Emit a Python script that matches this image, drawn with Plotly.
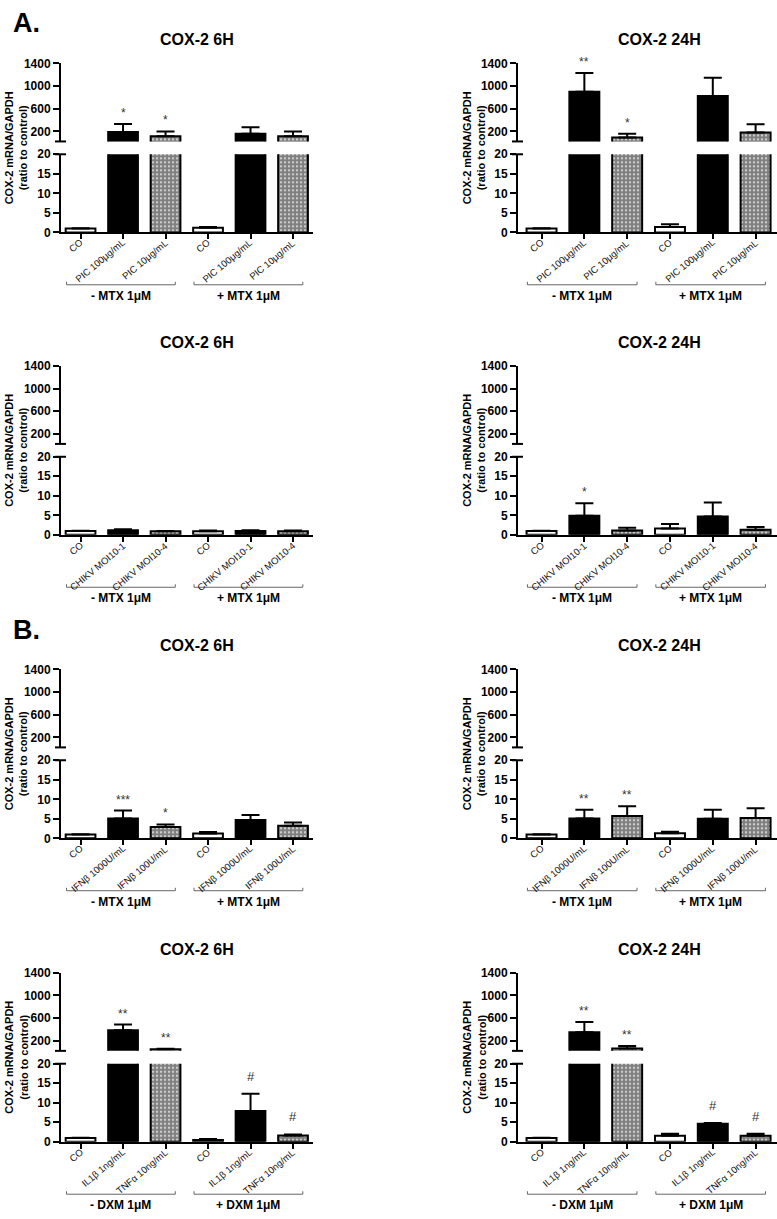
import plotly.graph_objects as go

W, H = 777, 1219

# ---------------- data ----------------
treat_pic = ["CO", "PIC 100μg/mL", "PIC 10μg/mL"]
treat_chikv = ["CO", "CHIKV MOI10-1", "CHIKV MOI10-4"]
treat_ifn = ["CO", "IFNβ 1000U/mL", "IFNβ 100U/mL"]
treat_cyt = ["CO", "IL1β 1ng/mL", "TNFα 10ng/mL"]

groups_mtx = ["- MTX 1μM", "+ MTX 1μM"]
groups_dxm = ["- DXM 1μM", "+ DXM 1μM"]

titles = ["COX-2 6H", "COX-2 24H", "COX-2 6H", "COX-2 24H",
          "COX-2 6H", "COX-2 24H", "COX-2 6H", "COX-2 24H"]

mean_a_pic_6h = [1.0, 190, 115, 1.2, 160, 115]
err_a_pic_6h = [0.05, 140, 85, 0.2, 115, 85]
sig_a_pic_6h = ["", "*", "*", "", "", ""]

mean_a_pic_24h = [1.0, 900, 96, 1.4, 826, 183]
err_a_pic_24h = [0.05, 330, 65, 0.7, 320, 145]
sig_a_pic_24h = ["", "**", "*", "", "", ""]

mean_a_chikv_6h = [1.0, 1.2, 0.95, 0.95, 1.0, 0.95]
err_a_chikv_6h = [0.05, 0.25, 0.05, 0.15, 0.2, 0.15]
sig_a_chikv_6h = ["", "", "", "", "", ""]

mean_a_chikv_24h = [1.0, 4.9, 1.1, 1.6, 4.7, 1.3]
err_a_chikv_24h = [0.05, 3.2, 0.7, 1.2, 3.6, 0.7]
sig_a_chikv_24h = ["", "*", "", "", "", ""]

mean_b_ifn_6h = [1.0, 5.1, 2.9, 1.25, 4.7, 3.2]
err_b_ifn_6h = [0.05, 2.0, 0.65, 0.4, 1.25, 0.85]
sig_b_ifn_6h = ["", "***", "*", "", "", ""]

mean_b_ifn_24h = [1.0, 5.1, 5.7, 1.3, 5.0, 5.2]
err_b_ifn_24h = [0.05, 2.25, 2.5, 0.4, 2.3, 2.5]
sig_b_ifn_24h = ["", "**", "**", "", "", ""]

mean_b_cyt_6h = [1.0, 388, 55, 0.45, 7.9, 1.6]
err_b_cyt_6h = [0.05, 100, 6, 0.25, 4.4, 0.3]
sig_b_cyt_6h = ["", "**", "**", "", "#", "#"]

mean_b_cyt_24h = [1.0, 353, 65, 1.55, 4.6, 1.55]
err_b_cyt_24h = [0.05, 182, 47, 0.5, 0.2, 0.5]
sig_b_cyt_24h = ["", "**", "**", "", "#", "#"]

upper_ticks = [200, 600, 1000, 1400]
lower_ticks = [0, 5, 10, 15, 20]
upper_min, upper_max = 25, 1400
lower_min, lower_max = 0, 20

panels = [
    (treat_pic, groups_mtx, mean_a_pic_6h, err_a_pic_6h, sig_a_pic_6h),
    (treat_pic, groups_mtx, mean_a_pic_24h, err_a_pic_24h, sig_a_pic_24h),
    (treat_chikv, groups_mtx, mean_a_chikv_6h, err_a_chikv_6h, sig_a_chikv_6h),
    (treat_chikv, groups_mtx, mean_a_chikv_24h, err_a_chikv_24h, sig_a_chikv_24h),
    (treat_ifn, groups_mtx, mean_b_ifn_6h, err_b_ifn_6h, sig_b_ifn_6h),
    (treat_ifn, groups_mtx, mean_b_ifn_24h, err_b_ifn_24h, sig_b_ifn_24h),
    (treat_cyt, groups_dxm, mean_b_cyt_6h, err_b_cyt_6h, sig_b_cyt_6h),
    (treat_cyt, groups_dxm, mean_b_cyt_24h, err_b_cyt_24h, sig_b_cyt_24h),
]

# ---------------- layout geometry (pixels) ----------------
FONT = "Liberation Sans, Arial, sans-serif"
ROW_TOP = [57, 363, 670, 977]
COLS = [dict(x0=61, x1=313, r0=-0.46, r1=5.47, title_x=197, ytitle_x=16),
        dict(x0=518, x1=777, r0=-0.55, r1=5.5, title_x=659, ytitle_x=474)]
UP_H, GAP, LOW_H = 79, 13, 79


def py(p):
    return 1 - p / H


def px(p):
    return p / W


fig = go.Figure()
layout = dict(width=W, height=H, margin=dict(l=0, r=0, t=0, b=0),
              plot_bgcolor="white", paper_bgcolor="white", showlegend=False,
              font=dict(family=FONT, color="black"))
annotations = []
shapes = []

bar_styles = [
    dict(color="white", pattern=dict(shape="")),
    dict(color="black", pattern=dict(shape="")),
    dict(color="white", pattern=dict(shape=".", fgcolor="black", bgcolor="white",
                                     size=4, solidity=0.8)),
]

for p, (treats, grps, mean, err, sig) in enumerate(panels):
    row, col = divmod(p, 2)
    c = COLS[col]
    T = ROW_TOP[row]
    nu, nl = 2 * p + 1, 2 * p + 2
    xdom = [px(c["x0"]), min(1.0, px(c["x1"]))]
    updom = [py(T + UP_H), py(T)]
    lodom = [py(T + UP_H + GAP + LOW_H), py(T + UP_H + GAP)]
    labels = treats + treats

    for n, lo in ((nu, upper_min), (nl, None)):
        for k in range(3):
            idx = [k, k + 3]
            st = bar_styles[k]
            # in the upper (broken) part only bars that reach into it are drawn
            ys = [mean[i] if (lo is None or mean[i] > lo) else None for i in idx]
            fig.add_trace(go.Bar(
                x=idx, y=ys,
                xaxis=f"x{n}", yaxis=f"y{n}", width=0.7,
                marker=dict(color=st["color"], line=dict(color="black", width=2),
                            pattern=st["pattern"]),
                error_y=dict(type="data", symmetric=False,
                             array=[err[i] for i in idx], arrayminus=[0, 0],
                             thickness=2, width=9, color="black"),
                hoverinfo="skip"))

    ax_common = dict(domain=xdom, range=[c["r0"], c["r1"]], showgrid=False,
                     zeroline=False, fixedrange=True)
    layout[f"xaxis{nu}"] = dict(ax_common, anchor=f"y{nu}", visible=False)
    layout[f"xaxis{nl}"] = dict(ax_common, anchor=f"y{nl}", showline=True,
                                linecolor="black", linewidth=2, ticks="outside",
                                ticklen=5, tickwidth=2, tickcolor="black",
                                tickvals=list(range(6)), showticklabels=False)
    y_common = dict(showgrid=False, zeroline=False, showline=True,
                    linecolor="black", linewidth=2, ticks="outside", ticklen=6,
                    tickwidth=2, tickcolor="black", fixedrange=True,
                    tickfont=dict(size=12, family=FONT, weight="bold"))
    layout[f"yaxis{nu}"] = dict(y_common, domain=updom, anchor=f"x{nu}",
                                range=[upper_min, upper_max],
                                tickvals=upper_ticks,
                                ticktext=[str(v) for v in upper_ticks])
    layout[f"yaxis{nl}"] = dict(y_common, domain=lodom, anchor=f"x{nl}",
                                range=[lower_min, lower_max],
                                tickvals=lower_ticks,
                                ticktext=[str(v) for v in lower_ticks])

    # axis-break marks
    for yb in (T + UP_H, T + UP_H + GAP):
        shapes.append(dict(type="line", xref="paper", yref="paper",
                           x0=px(c["x0"] - 6), x1=px(c["x0"] + 5),
                           y0=py(yb), y1=py(yb), line=dict(color="black", width=2)))

    # rotated category labels
    for i, lab in enumerate(labels):
        annotations.append(dict(text=lab, x=i, y=py(T + UP_H + GAP + LOW_H + 2),
                                xref=f"x{nl}", yref="paper", showarrow=False,
                                textangle=-40, xanchor="right", yanchor="top",
                                xshift=7,
                                font=dict(size=9.5, color="#111", family=FONT)))
    # title
    annotations.append(dict(text=titles[p], x=px(c["title_x"]), y=py(T - 24),
                            xref="paper", yref="paper", showarrow=False,
                            xanchor="center", yanchor="middle",
                            font=dict(size=16, family=FONT, weight="bold")))
    # y-axis title
    annotations.append(dict(text="COX-2 mRNA/GAPDH<br>(ratio to control)",
                            x=px(c["ytitle_x"]), y=py(T + 86), xref="paper",
                            yref="paper", showarrow=False, textangle=-90,
                            xanchor="center", yanchor="middle",
                            font=dict(size=11, family=FONT, weight="bold")))
    # significance marks
    for i, s in enumerate(sig):
        if not s:
            continue
        top = mean[i] + err[i]
        n = nu if top > lower_max else nl
        annotations.append(dict(text=s, x=i, y=top, xref=f"x{n}", yref=f"y{n}",
                                showarrow=False, yanchor="bottom",
                                yshift=8 if s == "#" else 2,
                                font=dict(size=13 if s == "#" else 12,
                                          color="#333", family=FONT)))
    # group brackets
    yl = py(T + 224)
    for g, name in enumerate(grps):
        a, b = 3 * g - 0.33, 3 * g + 2.23
        shapes.append(dict(type="line", xref=f"x{nl}", yref="paper", x0=a, x1=b,
                           y0=yl, y1=yl, line=dict(color="#666", width=1)))
        for xe in (a, b):
            shapes.append(dict(type="line", xref=f"x{nl}", yref="paper",
                               x0=xe, x1=xe, y0=yl, y1=py(T + 221),
                               line=dict(color="#666", width=1)))
        annotations.append(dict(text=name, x=3 * g + 0.95, y=py(T + 235),
                                xref=f"x{nl}", yref="paper", showarrow=False,
                                xanchor="center", yanchor="middle",
                                font=dict(size=12, family=FONT, weight="bold")))

for lab, yc in (("A.", 16), ("B.", 630)):
    annotations.append(dict(text=lab, x=px(11), y=py(yc), xref="paper",
                            yref="paper", showarrow=False, xanchor="left",
                            yanchor="middle",
                            font=dict(size=27, family=FONT, weight="bold")))

layout["annotations"] = annotations
layout["shapes"] = shapes
fig.update_layout(**layout)
fig.write_html("out.html", config={"displayModeBar": False},
               post_script="document.body.style.margin='0';"
                           "document.body.style.overflow='hidden';")
